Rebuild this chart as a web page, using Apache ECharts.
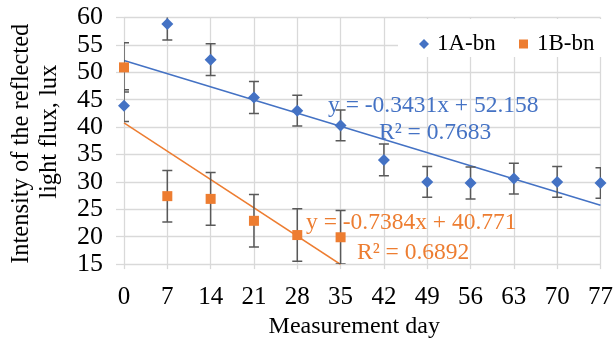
<!DOCTYPE html>
<html>
<head>
<meta charset="utf-8">
<script src="https://cdn.jsdelivr.net/npm/echarts@6/dist/echarts.min.js"></script>
<style>
  html, body { margin: 0; padding: 0; background: #fff; }
  #chart { width: 616px; height: 344px; }
</style>
</head>
<body>
<div id="chart"></div>
<script>
// Measurement days (x) and tick values
const days = [0, 7, 14, 21, 28, 35, 42, 49, 56, 63, 70, 77];
const daysB = [0, 7, 14, 21, 28, 35];
const yTicks = [15, 20, 25, 30, 35, 40, 45, 50, 55, 60];

// Series 1A-bn: mean values and error half-widths
const valuesA = [43.9, 58.8, 52.3, 45.4, 43.0, 40.3, 34.0, 30.0, 29.8, 30.6, 30.0, 29.8];
const errorsA = [2.9, 2.9, 2.9, 2.9, 2.8, 2.8, 2.9, 2.8, 2.9, 2.8, 2.8, 2.8];

// Series 1B-bn: mean values and error half-widths
const valuesB = [50.9, 27.4, 26.9, 22.9, 20.3, 19.9];
const errorsB = [4.5, 4.7, 4.8, 4.8, 4.8, 4.9];

// Linear trend lines (slope, intercept) as given in the equations
const trendA = { slope: -0.3431, intercept: 52.158, r2: '0.7683', from: 0, to: 77 };
const trendB = { slope: -0.7384, intercept: 40.771, r2: '0.6892', from: 0, to: 35 };

const BLUE = '#4472C4';
const ORANGE = '#ED7D31';
const GRID = '#d9d9d9';
const ERR = '#595959';
const FONT = "'Liberation Serif', 'Times New Roman', serif";

const pts = (xs, ys) => xs.map((x, i) => [x, ys[i]]);
const bars = (xs, ys, es) => xs.map((x, i) => [x, ys[i] - es[i], ys[i] + es[i]]);
const trendPts = t => [t.from, t.to].map(x => [x, t.slope * x + t.intercept]);
const fmtEq = t => 'y = ' + t.slope.toFixed(4) + 'x + ' + t.intercept.toFixed(3);

function errorBar(params, api) {
  const x = api.value(0);
  const lo = api.coord([x, api.value(1)]);
  const hi = api.coord([x, api.value(2)]);
  const hw = 5;
  const style = { stroke: ERR, lineWidth: 1.5 };
  return {
    type: 'group',
    children: [
      { type: 'line', shape: { x1: lo[0], y1: lo[1], x2: hi[0], y2: hi[1] }, style },
      { type: 'line', shape: { x1: hi[0] - hw, y1: hi[1], x2: hi[0] + hw, y2: hi[1] }, style },
      { type: 'line', shape: { x1: lo[0] - hw, y1: lo[1], x2: lo[0] + hw, y2: lo[1] }, style }
    ]
  };
}

const chart = echarts.init(document.getElementById('chart'), null, { renderer: 'canvas' });

chart.setOption({
  animation: false,
  backgroundColor: '#fff',
  textStyle: { fontFamily: FONT },
  grid: { left: 120.7, right: 11, top: 17.5, bottom: 66.3, containLabel: false },
  xAxis: {
    type: 'value',
    min: 0, max: 77, interval: 7,
    axisLine: { show: false },
    axisTick: { show: true, length: 5, lineStyle: { color: GRID, width: 1.3 } },
    splitLine: { show: true, lineStyle: { color: GRID, width: 1.3 } },
    axisLabel: { color: '#000', fontSize: 25, fontFamily: FONT, margin: 21 },
    name: 'Measurement day',
    nameLocation: 'middle',
    nameGap: 42,
    nameTextStyle: { color: '#000', fontSize: 24, fontFamily: FONT, padding: [0, 16, 0, 0] }
  },
  yAxis: {
    type: 'value',
    min: yTicks[0], max: yTicks[yTicks.length - 1], interval: 5,
    axisLine: { show: false },
    axisTick: { show: true, length: 8, lineStyle: { color: GRID, width: 1.3 } },
    splitLine: { show: true, lineStyle: { color: GRID, width: 1.3 } },
    axisLabel: { color: '#000', fontSize: 26, fontFamily: FONT, margin: 21 },
    name: '{a|Intensity of the reflected}\n{b|light flux, lux}',
    nameLocation: 'middle',
    nameRotate: 90,
    nameGap: 60,
    nameTextStyle: {
      color: '#000', fontSize: 24.5, fontFamily: FONT, lineHeight: 28,
      rich: {
        a: { fontSize: 24.5, fontFamily: FONT, color: '#000', lineHeight: 28, padding: [0, 6, 0, 0] },
        b: { fontSize: 24.5, fontFamily: FONT, color: '#000', lineHeight: 28, padding: [0, 0, 0, 18] }
      }
    }
  },
  legend: [
    {
      data: [{ name: '1A-bn', icon: 'diamond' }],
      left: 414, top: 27,
      itemWidth: 10, itemHeight: 10,
      textStyle: { fontSize: 23, fontFamily: FONT, color: '#000', lineHeight: 24, padding: [0, 0, 0, 3] }
    },
    {
      data: [{ name: '1B-bn', icon: 'rect' }],
      left: 514, top: 27,
      itemWidth: 9, itemHeight: 9,
      textStyle: { fontSize: 23, fontFamily: FONT, color: '#000', lineHeight: 24, padding: [0, 0, 0, 4] }
    }
  ],
  graphic: [
    { type: 'rect', z: 3, shape: { x: 398, y: 19, width: 206, height: 38 }, style: { fill: '#fff' } },
    { type: 'text', z: 5, style: { x: 328, y: 106, text: fmtEq(trendA), font: '23.5px ' + FONT, fill: BLUE, verticalAlign: 'middle' } },
    { type: 'text', z: 5, style: { x: 379, y: 133, text: 'R² = ' + trendA.r2, font: '23.5px ' + FONT, fill: BLUE, verticalAlign: 'middle' } },
    { type: 'text', z: 5, style: { x: 306, y: 223, text: fmtEq(trendB), font: '23.5px ' + FONT, fill: ORANGE, verticalAlign: 'middle' } },
    { type: 'text', z: 5, style: { x: 357, y: 253, text: 'R² = ' + trendB.r2, font: '23.5px ' + FONT, fill: ORANGE, verticalAlign: 'middle' } }
  ],
  series: [
    {
      name: '1A-bn trend', type: 'line', data: trendPts(trendA), showSymbol: false,
      lineStyle: { color: BLUE, width: 1.5 }, z: 2, clip: true, silent: true
    },
    {
      name: '1B-bn trend', type: 'line', data: trendPts(trendB), showSymbol: false,
      lineStyle: { color: ORANGE, width: 1.5 }, z: 2, clip: true, silent: true
    },
    { name: '1A-bn err', type: 'custom', renderItem: errorBar, data: bars(days, valuesA, errorsA), z: 3, clip: true, encode: { x: 0, y: [1, 2] } },
    { name: '1B-bn err', type: 'custom', renderItem: errorBar, data: bars(daysB, valuesB, errorsB), z: 3, clip: true, encode: { x: 0, y: [1, 2] } },
    {
      name: '1A-bn', type: 'scatter', data: pts(days, valuesA), symbol: 'diamond', symbolSize: 12,
      itemStyle: { color: BLUE, opacity: 1 }, z: 4
    },
    {
      name: '1B-bn', type: 'scatter', data: pts(daysB, valuesB), symbol: 'rect', symbolSize: 10,
      itemStyle: { color: ORANGE, opacity: 1 }, z: 4
    }
  ]
});
</script>
</body>
</html>
